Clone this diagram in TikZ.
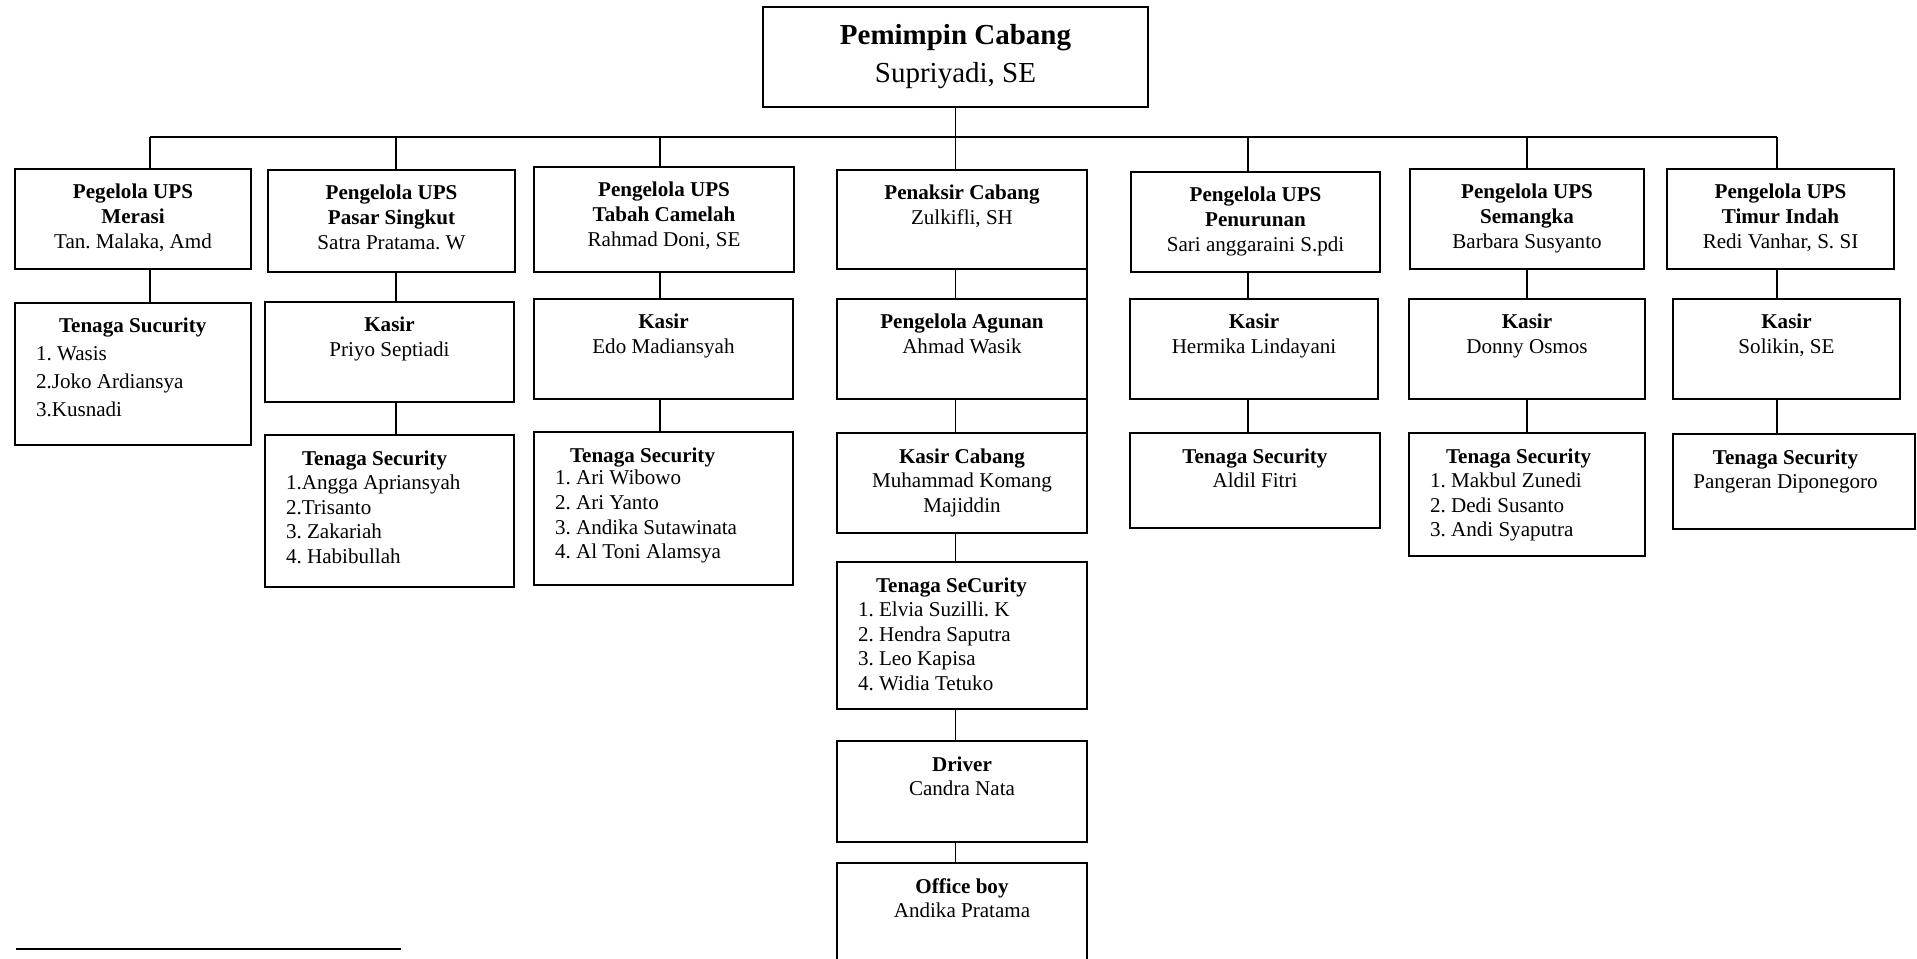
\documentclass[tikz,border=0pt]{standalone}
\usepackage{fontspec}
\setmainfont{Liberation Serif}
\usepackage{tikz}
\frenchspacing
\newlength{\pix}
\setlength{\pix}{0.02cm}
\newcommand{\isi}[3]{\parbox[t][#2\pix][t]{#1\pix}{\centering\rule{0pt}{30\pix}#3}}
\newcommand{\daftar}[3]{\parbox[t][#2\pix][t]{#1\pix}{\raggedright\leftskip=21\pix\rule{0pt}{30\pix}#3}}

\begin{document}
\begin{tikzpicture}[x=0.02cm,y=-0.02cm,
      box/.style={draw,line width=0.95pt,inner sep=0pt,outer sep=0pt,
                  anchor=north west,font=\fontsize{12}{14}\selectfont},
      garis/.style={line width=0.75pt}]
    \useasboundingbox (0,0) rectangle (1917,959);
    \node[box](pimpinan) at (763,7){\parbox[t][100\pix][t]{385\pix}{\centering
      \fontsize{16.5}{21.3}\selectfont\rule{0pt}{38\pix}\textbf{Pemimpin Cabang}\\
      Supriyadi, SE}};

    \node[box](a1) at (15,169){\isi{236}{100}{\textbf{Pegelola UPS}\\\textbf{Merasi}\\Tan. Malaka, Amd}};
    \node[box](b1) at (268,170){\isi{247}{102}{\textbf{Pengelola UPS}\\\textbf{Pasar Singkut}\\Satra Pratama. W}};
    \node[box](c1) at (534,167){\isi{260}{105}{\textbf{Pengelola UPS}\\\textbf{Tabah Camelah}\\Rahmad Doni, SE}};
    \node[box](d1) at (837,170){\isi{250}{99}{\textbf{Penaksir Cabang}\\Zulkifli, SH}};
    \node[box](e1) at (1131,172){\isi{249}{100}{\textbf{Pengelola UPS}\\\textbf{Penurunan}\\Sari anggaraini S.pdi}};
    \node[box](f1) at (1410,169){\isi{234}{100}{\textbf{Pengelola UPS}\\\textbf{Semangka}\\Barbara Susyanto}};
    \node[box](g1) at (1667,169){\isi{227}{100}{\textbf{Pengelola UPS}\\\textbf{Timur Indah}\\Redi Vanhar, S. SI}};

    \node[box](a2) at (15,303){\daftar{236}{142}{\hspace*{23\pix}\textbf{Tenaga Sucurity}\\[1.9pt]
      1. Wasis\\[1.9pt]2.Joko Ardiansya\\[1.9pt]3.Kusnadi}};
    \node[box](b2) at (265,302){\isi{249}{100}{\textbf{Kasir}\\Priyo Septiadi}};
    \node[box](c2) at (534,299){\isi{259}{100}{\textbf{Kasir}\\Edo Madiansyah}};
    \node[box](d2) at (837,299){\isi{250}{100}{\textbf{Pengelola Agunan}\\Ahmad Wasik}};
    \node[box](e2) at (1130,299){\isi{248}{100}{\textbf{Kasir}\\Hermika Lindayani}};
    \node[box](f2) at (1409,299){\isi{236}{100}{\textbf{Kasir}\\Donny Osmos}};
    \node[box](g2) at (1673,299){\isi{227}{100}{\textbf{Kasir}\\Solikin, SE}};

    \node[box](b3) at (265,435){\daftar{249}{152}{\hspace*{16\pix}\textbf{Tenaga Security}\\
      1.Angga Apriansyah\\2.Trisanto\\3. Zakariah\\4. Habibullah}};
    \node[box](c3) at (534,432){\daftar{259}{153}{\hspace*{15\pix}\textbf{Tenaga Security}\\[-1pt]
      1. Ari Wibowo\\2. Ari Yanto\\3. Andika Sutawinata\\4. Al Toni Alamsya}};
    \node[box](d3) at (837,433){\isi{250}{100}{\textbf{Kasir Cabang}\\Muhammad Komang\\Majiddin}};
    \node[box](e3) at (1130,433){\isi{250}{95}{\textbf{Tenaga Security}\\Aldil Fitri}};
    \node[box](f3) at (1409,433){\daftar{236}{123}{\hspace*{16\pix}\textbf{Tenaga Security}\\
      1. Makbul Zunedi\\2. Dedi Susanto\\3. Andi Syaputra}};
    \node[box](g3) at (1673,434){\isi{242}{95}{\hspace*{-17\pix}\textbf{Tenaga Security}\\
      \hspace*{-17\pix}Pangeran Diponegoro}};

    \node[box](d4) at (837,562){\daftar{250}{147}{\hspace*{18\pix}\textbf{Tenaga SeCurity}\\
      1. Elvia Suzilli. K\\2. Hendra Saputra\\3. Leo Kapisa\\4. Widia Tetuko}};
    \node[box](d5) at (837,741){\isi{250}{101}{\textbf{Driver}\\Candra Nata}};
    \node[box](d6) at (837,863){\isi{250}{115}{\textbf{Office boy}\\Andika Pratama}};

    \coordinate (sA) at (150,137);
    \coordinate (sB) at (396,137);
    \coordinate (sC) at (660,137);
    \coordinate (sD) at (955.5,137);
    \coordinate (sE) at (1248,137);
    \coordinate (sF) at (1527,137);
    \coordinate (sG) at (1777,137);

    \draw[garis](sA)--(sG);
    \draw[garis](pimpinan.south)--(pimpinan.south |- d1.north);
    \foreach \s/\b in {sA/a1,sB/b1,sC/c1,sE/e1,sF/f1,sG/g1}
      \draw[garis](\s)--(\s |- \b.north);
    \foreach \s/\u/\v in {sA/a1/a2,sB/b1/b2,sB/b2/b3,sC/c1/c2,sC/c2/c3,
                          sD/d1/d2,sD/d2/d3,sD/d3/d4,sD/d4/d5,sD/d5/d6,
                          sE/e1/e2,sE/e2/e3,sF/f1/f2,sF/f2/f3,sG/g1/g2,sG/g2/g3}
      \draw[garis](\u.south -| \s)--(\v.north -| \s);
    \draw[garis](d1.south east)--(d3.north east);

    \draw[line width=0.95pt](16,949)--(401,949);
\end{tikzpicture}
\end{document}
